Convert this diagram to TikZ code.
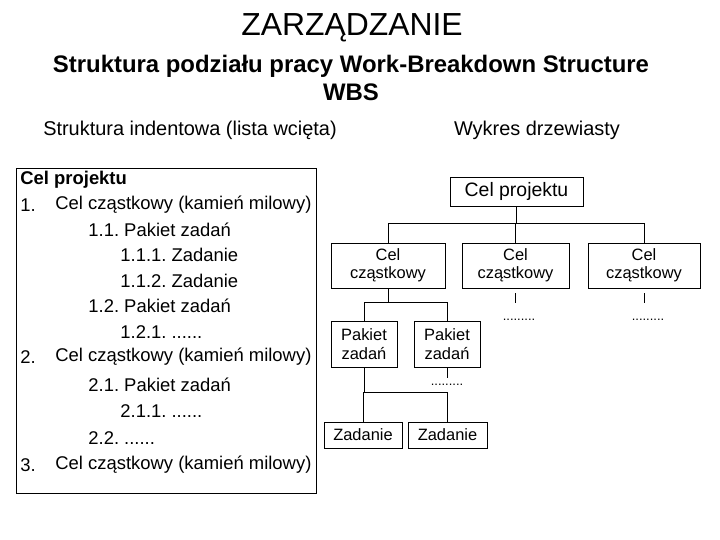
\documentclass[tikz,border=0pt]{standalone}
\usepackage{fontspec}
\setmainfont{Liberation Sans}
\frenchspacing
\usetikzlibrary{positioning}
\tikzset{
  wbsbox/.style={draw, thick, align=center, inner sep=1pt, font=\fontsize{16.5}{18.5}\selectfont},
  item/.style={anchor=west, inner sep=0pt, font=\fontsize{18.5}{20}\selectfont},
  dots/.style={inner sep=0pt, font=\fontsize{13}{13}\selectfont},
}
\begin{document}
\begin{tikzpicture}[x=1bp, y=-1bp, thick]
  \useasboundingbox (0,0) rectangle (720,540);
  % titles
  \node (title) at (352,28) {\fontsize{32}{36}\selectfont ZARZĄDZANIE};
  \node (sub1) at (351,66) {\fontsize{24}{26}\selectfont\bfseries Struktura podziału pracy Work-Breakdown Structure};
  \node (sub2) at (351,92) {\fontsize{24}{26}\selectfont\bfseries WBS};
  \node (hleft) at (190,130) {\fontsize{20}{22}\selectfont Struktura indentowa (lista wcięta)};
  \node (hright) at (537,130) {\fontsize{20}{22}\selectfont Wykres drzewiasty};
  % indented list
  \draw (16,168) rectangle (316,493);
  \node[item] (l0) at (20,180) {\bfseries Cel projektu};
  \node[item] (n1) at (20,205) {1.};
  \node[item] (l1) at (55,205) {Cel cząstkowy (kamień milowy)};
  \node[item] (l11) at (88,230) {1.1. Pakiet zadań};
  \node[item] (l111) at (120,255) {1.1.1. Zadanie};
  \node[item] (l112) at (120,281) {1.1.2. Zadanie};
  \node[item] (l12) at (88,306) {1.2. Pakiet zadań};
  \node[item] (l121) at (120,332) {1.2.1. ......};
  \node[item] (n2) at (20,357) {2.};
  \node[item] (l2) at (55,357) {Cel cząstkowy (kamień milowy)};
  \node[item] (l21) at (88,385) {2.1. Pakiet zadań};
  \node[item] (l211) at (120,411) {2.1.1. ......};
  \node[item] (l22) at (88,438) {2.2. ......};
  \node[item] (n3) at (20,465) {3.};
  \node[item] (l3) at (55,465) {Cel cząstkowy (kamień milowy)};
  % tree
  \node[wbsbox, minimum width=133bp, minimum height=29bp, font=\fontsize{19.5}{22}\selectfont] (root) at (516.5,191.5) {Cel projektu};
  \node[wbsbox, minimum width=114bp, minimum height=45bp] (cc1) at (388,265.5) {Cel\\cząstkowy};
  \node[wbsbox, minimum width=107bp, minimum height=45bp] (cc2) at (515.5,265.5) {Cel\\cząstkowy};
  \node[wbsbox, minimum width=112bp, minimum height=45bp] (cc3) at (644,265.5) {Cel\\cząstkowy};
  \node[wbsbox, minimum width=66bp, minimum height=46bp] (pz1) at (364,344) {Pakiet\\zadań};
  \node[wbsbox, minimum width=66bp, minimum height=46bp] (pz2) at (447,344) {Pakiet\\zadań};
  \node[wbsbox, minimum width=78bp, minimum height=26bp] (z1) at (363,435) {Zadanie};
  \node[wbsbox, minimum width=79bp, minimum height=26bp] (z2) at (447.5,435) {Zadanie};
  \node[dots] (d2) at (519,320) {.........};
  \node[dots] (d3) at (648,320) {.........};
  \node[dots] (dp) at (447,385) {.........};
  \coordinate (e2) at (515.5,303);
  \coordinate (e3) at (644,303);
  \coordinate (ep) at (447,378);
  \coordinate (s2) at (515.5,293);
  \coordinate (s3) at (644,293);
  % connectors
  \draw (root.south) -- ++(0,17) -| (cc1);
  \draw (root.south) ++(0,17) -| (cc2);
  \draw (root.south) ++(0,17) -| (cc3);
  \draw (cc1.south) -- ++(0,14) -| (pz1);
  \draw (cc1.south) ++(0,14) -| (pz2);
  \draw (pz1.south) -- ++(0,25) -| (z1);
  \draw (pz1.south) ++(0,25) -| (z2);
  \draw (s2) -- (e2);
  \draw (s3) -- (e3);
  \draw (pz2.south) -- (ep);
\end{tikzpicture}
\end{document}
